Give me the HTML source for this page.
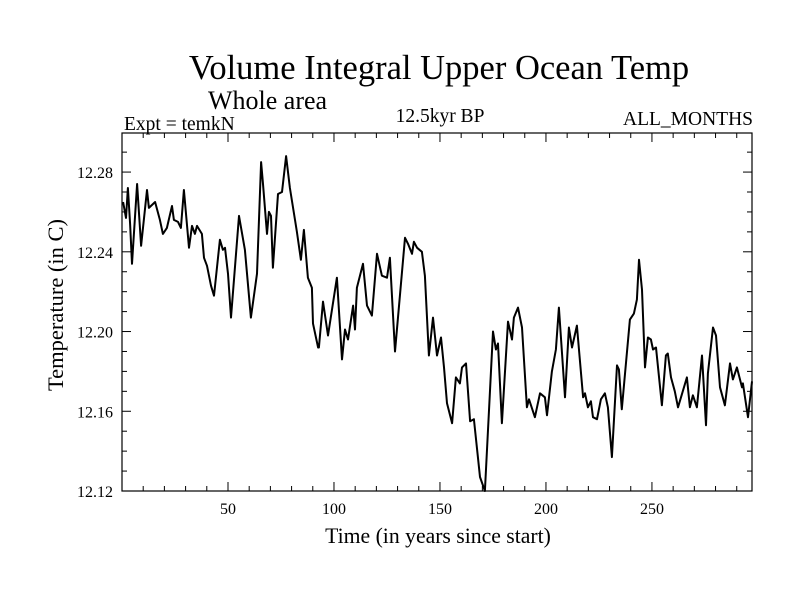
<!DOCTYPE html>
<html><head><meta charset="utf-8"><style>
body{margin:0;background:#fff;}
svg{display:block;font-family:"Liberation Serif",serif;}
</style></head><body>
<svg id="chart" width="800" height="600" viewBox="0 0 800 600">
<text x="439" y="79" font-size="34.5" text-anchor="middle">Volume Integral Upper Ocean Temp</text>
<text x="208" y="109" font-size="26">Whole area</text>
<text x="124" y="130" font-size="19.5">Expt = temkN</text>
<text x="440" y="122" font-size="19.5" text-anchor="middle">12.5kyr BP</text>
<text x="753" y="125" font-size="19.5" text-anchor="end">ALL_MONTHS</text>
<text x="438" y="543" font-size="21.7" text-anchor="middle">Time (in years since start)</text>
<text x="0" y="0" font-size="22.5" text-anchor="middle" transform="translate(63,305) rotate(-90)">Temperature (in C)</text>
<g id="axes"></g>
<rect x="122" y="133" width="630" height="358" fill="none" stroke="#000" stroke-width="1.2"/>
<path id="series" fill="none" stroke="#000" stroke-width="2" stroke-linejoin="round"/>
</svg>
<script>
const years = [0.5,1.9,2.8,3.8,4.7,7.1,9.0,11.8,12.7,15.6,17.9,19.3,21.2,23.6,24.5,26.4,27.8,29.2,31.6,33.0,34.4,35.4,37.7,38.7,40.1,42.0,43.4,46.2,47.6,48.6,50.0,51.4,55.2,58.0,60.8,63.7,65.6,66.5,68.4,69.3,70.3,71.2,73.6,75.5,77.4,79.2,81.6,82.5,84.4,85.8,87.7,89.6,90.1,92.5,92.9,94.8,97.2,101.4,103.8,105.2,106.6,109.0,109.9,110.8,113.7,115.6,117.9,120.3,122.6,125.0,126.4,128.8,133.5,134.9,136.8,137.7,139.2,141.5,142.9,144.8,146.7,148.6,150.5,151.9,153.3,155.7,157.5,159.4,160.4,162.3,164.2,166.0,168.9,171.2,175.0,176.4,177.4,179.2,182.1,184.0,184.9,186.8,188.7,191.0,192.0,194.8,197.2,199.5,200.5,202.8,204.7,206.1,209.0,210.8,212.3,214.6,217.5,218.4,219.8,221.2,222.2,224.1,225.9,227.8,229.2,231.1,233.5,234.4,235.8,239.6,241.5,242.9,243.9,245.3,246.7,248.1,249.5,250.5,251.9,254.7,256.6,257.5,259.0,260.8,262.3,263.7,266.5,267.9,269.3,271.2,273.6,275.5,276.4,278.8,280.2,282.1,284.4,286.8,288.2,290.1,292.5,292.9,295.3,297.2];
const temps = [12.265,12.257,12.272,12.254,12.234,12.274,12.243,12.271,12.262,12.265,12.256,12.249,12.252,12.263,12.256,12.255,12.252,12.271,12.242,12.253,12.249,12.253,12.249,12.237,12.233,12.223,12.218,12.246,12.241,12.242,12.229,12.207,12.258,12.241,12.207,12.229,12.285,12.274,12.249,12.260,12.258,12.232,12.269,12.270,12.288,12.272,12.256,12.250,12.236,12.251,12.227,12.222,12.204,12.192,12.192,12.215,12.198,12.227,12.186,12.201,12.196,12.213,12.201,12.222,12.234,12.213,12.208,12.239,12.228,12.227,12.237,12.190,12.247,12.244,12.239,12.245,12.242,12.240,12.228,12.188,12.207,12.188,12.197,12.182,12.164,12.154,12.177,12.174,12.182,12.184,12.155,12.156,12.127,12.120,12.200,12.191,12.194,12.154,12.205,12.196,12.207,12.212,12.202,12.162,12.166,12.157,12.169,12.167,12.158,12.180,12.191,12.212,12.167,12.202,12.192,12.203,12.167,12.169,12.162,12.165,12.157,12.156,12.166,12.169,12.162,12.137,12.183,12.181,12.161,12.206,12.209,12.216,12.236,12.221,12.182,12.197,12.196,12.191,12.192,12.163,12.188,12.189,12.177,12.170,12.162,12.167,12.177,12.162,12.168,12.162,12.188,12.153,12.179,12.202,12.198,12.172,12.163,12.184,12.176,12.182,12.172,12.174,12.157,12.175];
const xTickLabels = [50,100,150,200,250];
const yTickLabels = ["12.12","12.16","12.20","12.24","12.28"];

const X0=122,X1=752,Y0=491,Y1=133;
const xMin=0,xMax=297.2,yMin=12.12,yMax=12.2996;
function sx(v){return X0+(v-xMin)/(xMax-xMin)*(X1-X0);}
function sy(v){return Y0-(v-yMin)/(yMax-yMin)*(Y0-Y1);}
const NS="http://www.w3.org/2000/svg";
const axes=document.getElementById('axes');
function line(x1,y1,x2,y2,name){
  const l=document.createElementNS(NS,'line');
  l.setAttribute('x1',x1);l.setAttribute('y1',y1);l.setAttribute('x2',x2);l.setAttribute('y2',y2);
  l.setAttribute('stroke','#000');l.setAttribute('stroke-width','1');
  
  
  axes.appendChild(l);
}
function label(x,y,txt,anchor,name){
  const t=document.createElementNS(NS,'text');
  t.setAttribute('x',x);t.setAttribute('y',y);t.setAttribute('font-size','16');t.setAttribute('text-anchor',anchor);
  t.textContent=txt;
  
  
  axes.appendChild(t);
}
for(let v=10;v<=290;v+=10){
  const major=v%50===0, len=major?9:5, x=sx(v);
  line(x,Y0,x,Y0-len,'x-tick');
  line(x,Y1,x,Y1+len,'x-tick-top');
}
xTickLabels.forEach(v=>label(sx(v),514,String(v),'middle','x-tick-label'));
for(let i=0;i<=18;i++){
  const v=12.12+i*0.01; if(v>yMax) break;
  const major=i%4===0, len=major?9:5, y=sy(v);
  line(X0,y,X0+len,y,'y-tick');
  line(X1,y,X1-len,y,'y-tick-right');
}
yTickLabels.forEach(s=>label(113,sy(parseFloat(s))+6,s,'end','y-tick-label'));
let d='';
years.forEach((yr,i)=>{d+=(i?'L':'M')+sx(yr).toFixed(1)+','+sy(temps[i]).toFixed(1);});
document.getElementById('series').setAttribute('d',d);
</script>
</body></html>
